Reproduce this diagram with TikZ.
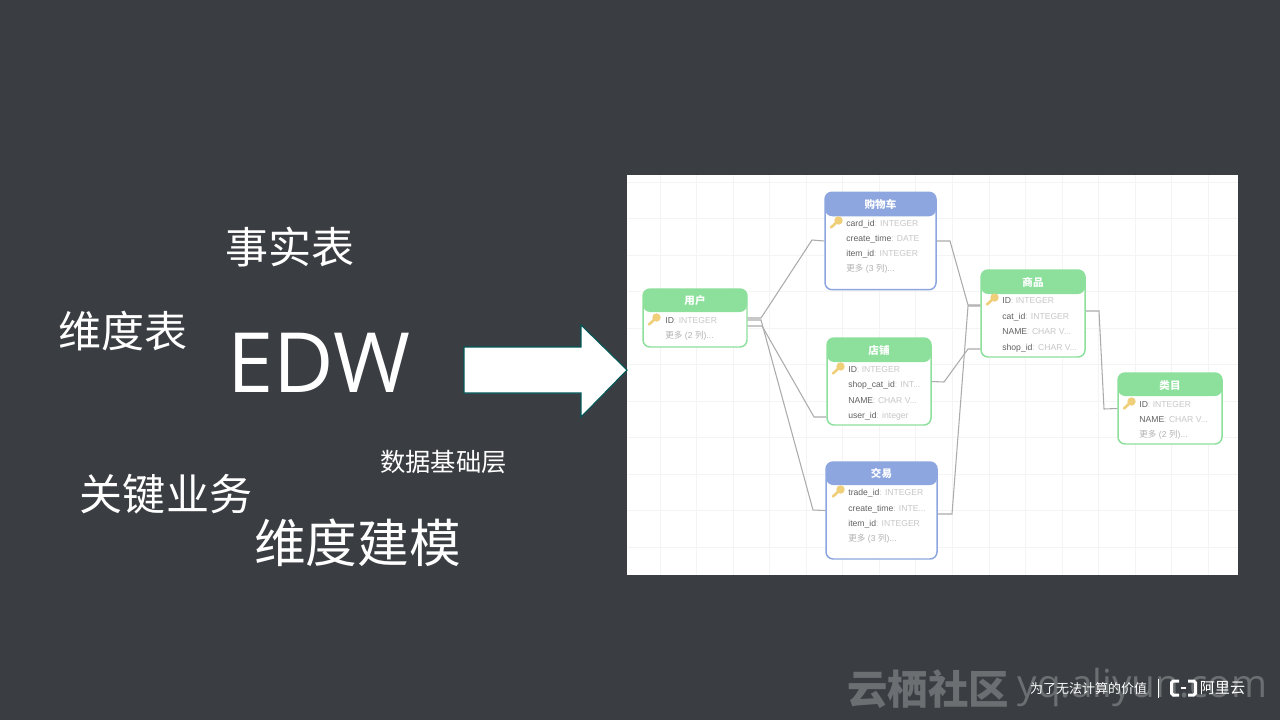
\documentclass[tikz,border=0pt]{standalone}
\usepackage{fontspec}
\setmainfont{Liberation Sans}
\newfontfamily\cjk{Noto Sans CJK SC}
\newfontfamily\edwfont{Open Sans}
\usetikzlibrary{arrows,positioning}
\definecolor{slide}{HTML}{3A3E42}
\definecolor{headgreen}{HTML}{8CE09C}
\definecolor{headblue}{HTML}{8DA6E0}
\definecolor{linkgray}{HTML}{ABABAB}
\definecolor{gridgray}{HTML}{F3F5F5}
\definecolor{keygold}{HTML}{EFCF7A}
\definecolor{markgray}{HTML}{6C6F72}
\newcommand{\rowtext}[2]{{\color{black!62}#1}{\color{black!22}: #2}}

\begin{document}
\begin{tikzpicture}[x=0.02cm,y=-0.02cm,
  slide text/.style={text=white,font=\cjk,inner sep=0pt},
  table box/.style={draw=#1,fill=white,line width=0.85pt,rounded corners=4pt,inner sep=0pt,
    minimum width=2.08cm},
  table title/.style={text=white,font=\cjk\bfseries\fontsize{6}{7}\selectfont,inner sep=0pt},
  table row/.style={anchor=west,inner sep=0pt,yshift=-0.02cm,font=\fontsize{4.9}{6}\selectfont},
  key icon/.pic={
    \draw[keygold,line width=1.5pt,line cap=round] (2.5,-2.5) -- (-5,4.5);
    \fill[keygold] (2.5,-2.5) circle (4.2);}]
  \useasboundingbox (0,0) rectangle (1280,720);
  \fill[slide] (0,0) rectangle (1280,720);

  % left words
  \node[slide text,font=\cjk\fontsize{24.5}{26}\selectfont] (fact) at (290,247) {事实表};
  \node[slide text,font=\cjk\fontsize{24.5}{26}\selectfont] (dim) at (123,331) {维度表};
  \node[slide text,font=\edwfont\fontsize{47.3}{50}\selectfont] (edw) at (319,363) {EDW};
  \node[slide text,font=\cjk\fontsize{14.4}{16}\selectfont] (base) at (443.5,462) {数据基础层};
  \node[slide text,font=\cjk\fontsize{24.5}{26}\selectfont] (biz) at (166,494) {关键业务};
  \node[slide text,font=\cjk\fontsize{29.4}{31}\selectfont] (model) at (357.5,543) {维度建模};

  % picture on the right
  \fill[white] (627,175) rectangle (1238,575);
  \foreach \gx in {0,...,15}
    \draw[gridgray,line width=0.45pt] (660+36.55*\gx,175) -- (660+36.55*\gx,575);
  \foreach \gy in {0,...,10}
    \draw[gridgray,line width=0.45pt] (627,182+36.5*\gy) -- (1238,182+36.5*\gy);
  \draw[draw=teal!70!black,line width=0.6pt,fill=white]
    (464,347) -- (581,347) -- (581,325) -- (627,370) -- (581,417) -- (581,393) -- (464,393) -- cycle;

  % tables
  \node[table box=headblue,minimum width=2.22cm,minimum height=1.95cm,
    path picture={\fill[headblue] (path picture bounding box.north west) rectangle ([yshift=-0.48cm]path picture bounding box.north east);}]
    (cart) at (880.5,241) {};
  \node[table box=headgreen,minimum height=1.16cm,
    path picture={\fill[headgreen] (path picture bounding box.north west) rectangle ([yshift=-0.46cm]path picture bounding box.north east);}]
    (user) at (695,318) {};
  \node[table box=headgreen,minimum height=1.74cm,
    path picture={\fill[headgreen] (path picture bounding box.north west) rectangle ([yshift=-0.48cm]path picture bounding box.north east);}]
    (shop) at (879,381.5) {};
  \node[table box=headgreen,minimum height=1.74cm,
    path picture={\fill[headgreen] (path picture bounding box.north west) rectangle ([yshift=-0.48cm]path picture bounding box.north east);}]
    (goods) at (1033,313.5) {};
  \node[table box=headgreen,minimum height=1.42cm,
    path picture={\fill[headgreen] (path picture bounding box.north west) rectangle ([yshift=-0.46cm]path picture bounding box.north east);}]
    (category) at (1170,408.5) {};
  \node[table box=headblue,minimum width=2.22cm,minimum height=1.94cm,
    path picture={\fill[headblue] (path picture bounding box.north west) rectangle ([yshift=-0.46cm]path picture bounding box.north east);}]
    (trade) at (881.5,510.5) {};

  \node[table title] (cart title) at (880.5,204) {购物车};
  \node[table title] (user title) at (695,301) {用户};
  \node[table title] (shop title) at (879,350) {店铺};
  \node[table title] (goods title) at (1033,282) {商品};
  \node[table title] (category title) at (1170,385) {类目};
  \node[table title] (trade title) at (881.5,473) {交易};

  \pic at (836,223) {key icon};
  \pic at (654,320) {key icon};
  \pic at (838,369) {key icon};
  \pic at (992,300) {key icon};
  \pic at (1129,404) {key icon};
  \pic at (838,492) {key icon};

  \node[table row] (cart a) at (846,223) {\rowtext{card\_id}{INTEGER}};
  \node[table row] (cart b) at (846,238) {\rowtext{create\_time}{DATE}};
  \node[table row] (cart c) at (846,253) {\rowtext{item\_id}{INTEGER}};
  \node[table row] (cart d) at (846,268) {\color{black!30}{\cjk 更多} (3 {\cjk 列})...};
  \node[table row] (user a) at (665,320) {\rowtext{ID}{INTEGER}};
  \node[table row] (user b) at (665,335) {\color{black!30}{\cjk 更多} (2 {\cjk 列})...};
  \node[table row] (shop a) at (848,369) {\rowtext{ID}{INTEGER}};
  \node[table row] (shop b) at (848,384) {\rowtext{shop\_cat\_id}{INT...}};
  \node[table row] (shop c) at (848,400) {\rowtext{NAME}{CHAR V...}};
  \node[table row] (shop d) at (848,415) {\rowtext{user\_id}{integer}};
  \node[table row] (goods a) at (1002,300) {\rowtext{ID}{INTEGER}};
  \node[table row] (goods b) at (1002,316) {\rowtext{cat\_id}{INTEGER}};
  \node[table row] (goods c) at (1002,331) {\rowtext{NAME}{CHAR V...}};
  \node[table row] (goods d) at (1002,347) {\rowtext{shop\_id}{CHAR V...}};
  \node[table row] (category a) at (1139,404) {\rowtext{ID}{INTEGER}};
  \node[table row] (category b) at (1139,419) {\rowtext{NAME}{CHAR V...}};
  \node[table row] (category c) at (1139,434) {\color{black!30}{\cjk 更多} (2 {\cjk 列})...};
  \node[table row] (trade a) at (848,492) {\rowtext{trade\_id}{INTEGER}};
  \node[table row] (trade b) at (848,508) {\rowtext{create\_time}{INTE...}};
  \node[table row] (trade c) at (848,523) {\rowtext{item\_id}{INTEGER}};
  \node[table row] (trade d) at (848,538) {\color{black!30}{\cjk 更多} (3 {\cjk 列})...};

  % links
  \begin{scope}[linkgray,line width=0.6pt]
    \draw (user.east) -- (761,318) -- (812,240) -- (cart.west);
    \draw ([yshift=-0.04cm]user.east) -- (761,320) -- (813,510) -- (trade.west);
    \draw ([yshift=-0.16cm]user.east) -- (762,326) -- (814,417) -- ([yshift=-0.71cm]shop.west);
    \draw (cart.east) -- (950,241) -- (968,305) -- ([yshift=0.17cm]goods.west);
    \draw ([yshift=-0.07cm]trade.east) -- (952,514) -- (968,306) -- ([yshift=0.15cm]goods.west);
    \draw (shop.east) -- (944,382) -- (968,349) -- ([yshift=-0.71cm]goods.west);
    \draw ([yshift=0.05cm]goods.east) -- (1099,311) -- (1104,409) -- (category.west);
  \end{scope}

  % footer
  \node[text=markgray,font=\cjk\bfseries\fontsize{23}{25}\selectfont,inner sep=0pt] (mark) at (928,689) {云栖社区};
  \node[text=markgray,font=\edwfont\fontsize{22}{24}\selectfont,inner sep=0pt] (site) at (1142.5,687) {yq.aliyun.com};
  \node[text=white,font=\cjk\fontsize{7.4}{9}\selectfont,inner sep=0pt] (motto) at (1088.5,689) {为了无法计算的价值};
  \draw[white,line width=0.4pt] (1158,679) -- (1158,698);
  \draw[white,line width=1.7pt,rounded corners=1pt] (1179,681) -- (1171.5,681) -- (1171.5,695) -- (1179,695);
  \draw[white,line width=1.7pt,rounded corners=1pt] (1188,681) -- (1195.5,681) -- (1195.5,695) -- (1188,695);
  \draw[white,line width=0.8pt] (1181,688) -- (1186,688);
  \node[text=white,font=\cjk\fontsize{8.6}{10}\selectfont,inner sep=0pt] (ali) at (1222.5,688) {阿里云};
\end{tikzpicture}
\end{document}
